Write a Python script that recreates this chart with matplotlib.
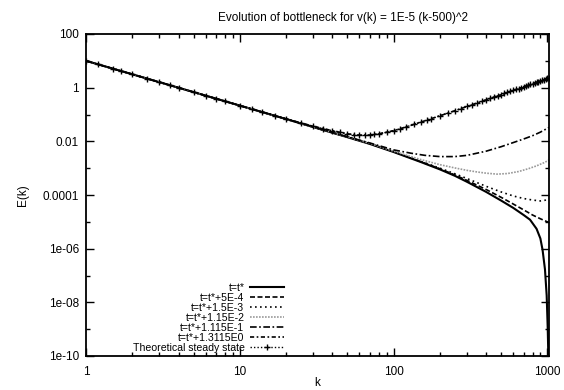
import matplotlib
matplotlib.use("Agg")
import matplotlib.pyplot as plt
from matplotlib.ticker import FixedLocator, FixedFormatter, NullFormatter

plt.rcParams['font.family'] = ['Liberation Sans', 'DejaVu Sans']

# ---------------- data ----------------
labels = ["t=t*", "t=t*+5E-4", "t=t*+1.5E-3", "t=t*+1.15E-2",
          "t=t*+1.115E-1", "t=t*+1.3115E0", "Theoretical steady state"]

k_t0 = [1, 2, 5, 10, 20, 30, 50, 70, 100, 150, 200, 250, 300, 400, 500, 600,
        700, 771, 850, 900, 930, 964, 989, 1005, 1014, 1024]
e_t0 = [10, 3.15, 0.684, 0.215, 0.0675, 0.034, 0.0143, 0.0080, 0.0040, 0.0017,
        9.0e-4, 5.2e-4, 3.1e-4, 1.3e-4, 6.2e-5, 3.3e-5, 1.8e-5, 1.2e-5, 5.5e-6,
        2.4e-6, 9e-7, 1.7e-7, 1.8e-8, 1e-9, 1e-10, 1e-12]

k_t1 = [1, 2, 5, 10, 20, 30, 50, 70, 100, 150, 200, 250, 300, 400, 500, 600,
        700, 800, 900, 1000, 1024]
e_t1 = [10, 3.15, 0.684, 0.215, 0.0677, 0.0342, 0.0145, 0.0082, 0.0041, 0.00175,
        9.5e-4, 5.6e-4, 3.5e-4, 1.6e-4, 8.2e-5, 4.6e-5, 2.8e-5, 1.8e-5, 1.3e-5,
        1.0e-5, 9.5e-6]

k_t2 = [1, 2, 5, 10, 20, 30, 50, 70, 100, 150, 200, 250, 300, 400, 500, 600,
        700, 800, 900, 950, 1000, 1024]
e_t2 = [10, 3.15, 0.684, 0.215, 0.0678, 0.0343, 0.0146, 0.0083, 0.0042, 0.0018,
        1.0e-3, 6.2e-4, 4.1e-4, 2.1e-4, 1.3e-4, 9.2e-5, 7.4e-5, 6.5e-5, 6.0e-5,
        6.2e-5, 6.8e-5, 7.5e-5]

k_t3 = [1, 2, 5, 10, 20, 30, 50, 70, 100, 150, 200, 250, 300, 350, 400, 470,
        550, 650, 750, 850, 950, 1024]
e_t3 = [10, 3.15, 0.684, 0.215, 0.068, 0.0344, 0.0147, 0.0084, 0.0043, 0.0021,
        0.00135, 0.00102, 8.3e-4, 7.2e-4, 6.5e-4, 6.0e-4, 6.3e-4, 7.5e-4, 9.5e-4,
        1.22e-3, 1.6e-3, 2.0e-3]

k_t4 = [1, 2, 5, 10, 20, 30, 50, 70, 100, 130, 160, 200, 250, 300, 400, 500,
        600, 700, 800, 900, 1024]
e_t4 = [10, 3.15, 0.684, 0.215, 0.068, 0.0345, 0.0148, 0.0087, 0.0048, 0.0036,
        0.0030, 0.0027, 0.0027, 0.0030, 0.0043, 0.0063, 0.0090, 0.0122, 0.0162,
        0.022, 0.033]

k_t5 = [1, 2, 5, 10, 20, 30, 40, 50, 60, 70, 80, 100, 120, 150, 200, 250, 300,
        400, 500, 600, 700, 800, 900, 1024]
e_t5 = [10, 3.15, 0.684, 0.216, 0.0688, 0.0365, 0.0249, 0.019, 0.017, 0.0172,
        0.019, 0.025, 0.034, 0.0519, 0.0895, 0.1385, 0.199, 0.352, 0.55, 0.792,
        1.078, 1.408, 1.782, 2.307]

k_ss = [1, 1.2, 1.5, 1.7, 2, 2.5, 3, 3.5, 4, 5, 6, 7, 8, 10, 12, 14, 17, 20,
        25, 30, 35, 40, 45, 50, 55, 60, 65, 70, 75, 80, 90, 100, 110, 120, 135,
        150, 165, 175, 200, 225, 250, 275, 300, 325, 350, 375, 400, 425, 450,
        475, 500, 525, 550, 575, 600, 625, 650, 675, 700, 725, 750, 775, 800,
        825, 850, 875, 900, 925, 950, 975, 1000, 1024]
e_ss = [10, 7.38, 5.09, 4.13, 3.15, 2.17, 1.60, 1.24, 0.992, 0.684, 0.505,
        0.390, 0.313, 0.216, 0.159, 0.123, 0.0895, 0.0688, 0.0482, 0.0365,
        0.0294, 0.0249, 0.022, 0.019, 0.0178, 0.017, 0.0169, 0.0172, 0.018,
        0.019, 0.0215, 0.025, 0.029, 0.034, 0.0429, 0.0519, 0.062, 0.0692,
        0.0895, 0.1126, 0.1385, 0.167, 0.199, 0.233, 0.270, 0.310, 0.352,
        0.3974, 0.446, 0.4964, 0.55, 0.6064, 0.666, 0.7274, 0.792, 0.8594,
        0.9295, 1.0024, 1.078, 1.1564, 1.2375, 1.3214, 1.408, 1.4974, 1.5895,
        1.6844, 1.782, 1.8824, 1.9855, 2.0914, 2.2, 2.307]

x_ticks = [1, 10, 100, 1000]
x_tick_labels = ["1", "10", "100", "1000"]
y_ticks = [1e2, 1, 1e-2, 1e-4, 1e-6, 1e-8, 1e-10]
y_tick_labels = ["100", "1", "0.01", "0.0001", "1e-06", "1e-08", "1e-10"]

# ---------------- figure ----------------
W, H = 564, 390
fig = plt.figure(figsize=(W / 100, H / 100), dpi=100)
L, R, T, B = 86, 549, 34, 356
ax = fig.add_axes([L / W, 1 - B / H, (R - L) / W, (B - T) / H])

ax.plot(k_t0, e_t0, color='black', lw=1.5, ls='-', label=labels[0])
ax.plot(k_t1, e_t1, color='black', lw=1.2, ls=(0, (3, 1.5)), label=labels[1])
ax.plot(k_t2, e_t2, color='black', lw=1.2, ls=(0, (1, 2)), label=labels[2])
ax.plot(k_t3, e_t3, color='#999999', lw=1.2, ls=(0, (1, 0.8)), label=labels[3])
ax.plot(k_t4, e_t4, color='black', lw=1.2, ls=(0, (4, 1.5, 1, 1.5)), label=labels[4])
ax.plot(k_t5, e_t5, color='black', lw=1.2, ls=(0, (2.5, 1.5, 1, 1.5)), label=labels[5])
ax.plot(k_ss, e_ss, color='black', lw=1.0, ls=(0, (1, 1.5)), marker='+',
        markersize=4.5, markeredgewidth=1.0, label=labels[6])

ax.set_xscale('log')
ax.set_yscale('log')
ax.set_xlim(1, 1024)
ax.set_ylim(1e-10, 100)

ax.xaxis.set_major_locator(FixedLocator(x_ticks))
ax.xaxis.set_major_formatter(FixedFormatter(x_tick_labels))
ax.xaxis.set_minor_locator(FixedLocator([m * d for d in (1, 10, 100) for m in range(2, 10)]))
ax.xaxis.set_minor_formatter(NullFormatter())
ax.yaxis.set_major_locator(FixedLocator(y_ticks))
ax.yaxis.set_major_formatter(FixedFormatter(y_tick_labels))
ax.yaxis.set_minor_locator(FixedLocator([10.0 ** e for e in range(-9, 2, 2)]))
ax.yaxis.set_minor_formatter(NullFormatter())

ax.tick_params(which='both', direction='in', top=True, right=True, width=1.0,
               labelsize=8.5, colors='black')
ax.tick_params(which='major', length=6)
ax.tick_params(which='minor', length=3)
ax.tick_params(axis='x', which='major', pad=7)
ax.tick_params(axis='y', which='major', pad=5)
for s in ax.spines.values():
    s.set_linewidth(1.3)

ax.set_xlabel('k', fontsize=8.5)
ax.xaxis.set_label_coords(0.5, -(383 - B) / (B - T))
ax.xaxis.label.set_va('center')
ax.set_ylabel('E(k)', fontsize=8.5)
ax.yaxis.set_label_coords(-(L - 23) / (R - L), 0.5)
ax.yaxis.label.set_va('center')

fig.text(343 / W, 1 - 18 / H, "Evolution of bottleneck for v(k) = 1E-5 (k-500)^2",
         ha='center', va='center', fontsize=8.5)

leg = ax.legend(loc='lower right',
                bbox_to_anchor=((284 - L) / (R - L), (B - 353) / (B - T)),
                frameon=False, markerfirst=False, fontsize=7.6, numpoints=1,
                handlelength=3.2, handletextpad=0.55, labelspacing=0.0,
                borderpad=0, borderaxespad=0)

fig.savefig('out.png', dpi=100)
